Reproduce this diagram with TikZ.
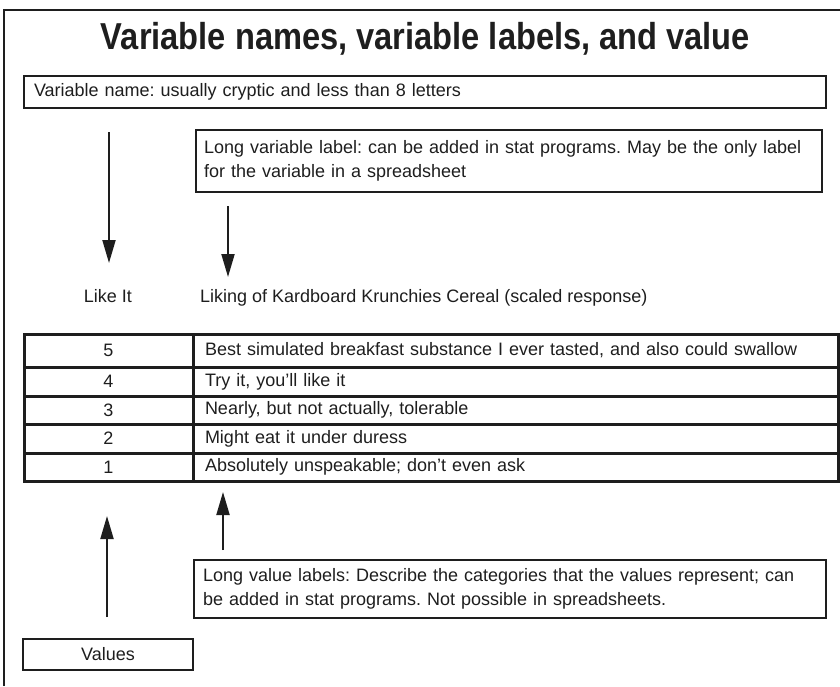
\documentclass[tikz,border=0pt]{standalone}
\usepackage{fontspec}
\setmainfont{Liberation Sans}
\usetikzlibrary{arrows.meta}
\definecolor{ink}{HTML}{1E1E1E}
\frenchspacing
\begin{document}
\begin{tikzpicture}[x=1pt,y=-1pt,
  every node/.style={text=ink, font=\fontsize{18}{24}\selectfont\frenchspacing},
  box/.style={draw=ink, line width=2.5pt, rectangle, outer sep=0pt, anchor=north west},
  cell/.style={draw=ink, line width=3pt, rectangle, outer sep=0pt, inner sep=0pt, anchor=north west},
  txt/.style={inner sep=0pt},
  arr/.style={draw=ink, line width=2pt, -{Triangle[length=23pt,width=13pt]}},
  frame/.style={draw=ink, line width=2pt}]
\useasboundingbox (0,0) rectangle (840,686);
\draw[frame] (4,686) -- (4,10) -- (840,10);
\node[txt, anchor=base] (title) at (425.5,49) {\scalebox{0.87}[1]{\fontsize{37.5}{40}\selectfont\bfseries Variable names, variable labels, and value}};

\node[box, text width=782pt, minimum height=32pt, inner xsep=10pt, inner ysep=0pt, align=left] (vn) at (24,76) {Variable name: usually cryptic and less than 8 letters};

\node[box, text width=610pt, minimum height=62pt, inner xsep=8pt, inner ysep=0pt, align=left] (lvl) at (196,130) {Long variable label: can be added in stat programs. May be the only label\\for the variable in a spreadsheet};

\node[txt, anchor=base] (likeit) at (108,302) {Like It};
\node[txt, anchor=base west] (liking) at (200,302) {Liking of Kardboard Krunchies Cereal (scaled response)};

% table
\foreach \n/\t/\h/\lab in {5/334/33/{Best simulated breakfast substance I ever tasted, and also could swallow},
                           4/367/29/{Try it, you’ll like it},
                           3/396/28/{Nearly, but not actually, tolerable},
                           2/424/29/{Might eat it under duress},
                           1/453/28/{Absolutely unspeakable; don’t even ask}}{
  \node[cell, minimum width=169pt, minimum height=\h pt, align=center] (v\n) at (24,\t) {\n};
  \node[cell, minimum width=633pt, minimum height=\h pt, text width=621pt, inner xsep=12pt, align=left] (l\n) at (193,\t) {\lab};
}

\node[box, text width=614pt, minimum height=58pt, inner xsep=9pt, inner ysep=0pt, align=left] (lvb) at (194,560) {Long value labels: Describe the categories that the values represent; can\\be added in stat programs. Not possible in spreadsheets.};

\node[box, minimum width=170pt, minimum height=31pt, inner sep=0pt, align=center] (values) at (23,639) {Values};

% arrows
\coordinate (a1s) at (109,132); \coordinate (a1e) at (109,263);
\coordinate (a2s) at (228,206); \coordinate (a2e) at (228,277);
\coordinate (a3s) at (223,550); \coordinate (a3e) at (223,492);
\coordinate (a4s) at (107,617); \coordinate (a4e) at (107,516);
\draw[arr] (a1s) -- (a1e);
\draw[arr] (a2s) -- (a2e);
\draw[arr] (a3s) -- (a3e);
\draw[arr] (a4s) -- (a4e);
\end{tikzpicture}
\end{document}
